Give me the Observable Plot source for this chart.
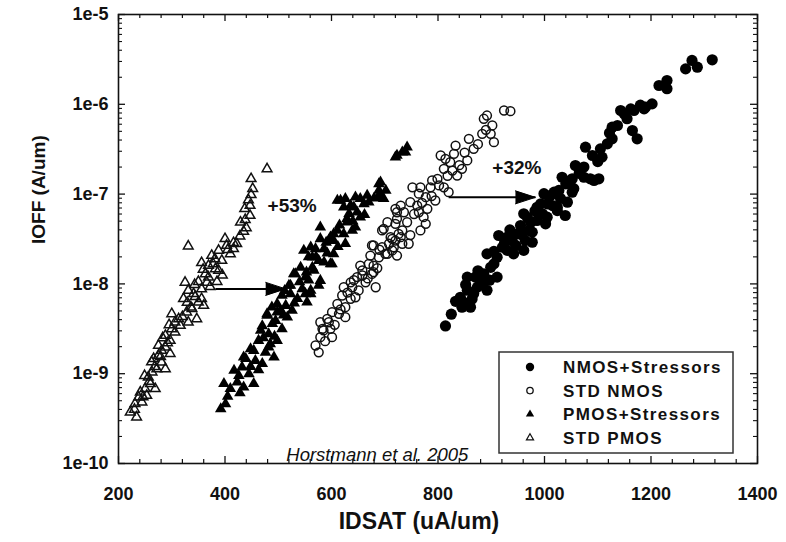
<!DOCTYPE html>
<html>
<head>
<meta charset="utf-8">
<script src="https://cdn.jsdelivr.net/npm/d3@7"></script>
<script src="https://cdn.jsdelivr.net/npm/@observablehq/plot@0.6"></script>
<style>
  body { margin: 0; background: #fff; }
  #chart { width: 786px; height: 542px; }
</style>
</head>
<body>
<div id="chart"></div>
<script>
// ---------- data (IDSAT in uA/um, IOFF in A/um) ----------
const nmosStressIdsat = [814,825,845,861,842,855,867,892,880,855,870,886,911,899,892,911,921,930,914,939,961,949,977,955,971,961,986,996,1002,986,999,1011,1024,1039,1043,1027,1033,1055,1052,1074,1093,977,1005,1024,1052,1049,1058,1074,1086,1102,1077,1090,1105,1108,1118,1127,1127,1137,1143,1155,1165,1174,1168,1187,1202,1215,1230,1230,1265,1277,1287,1315,930,942,905,874,848,864,886,993,1005,964,946,974,1015,1030,1190,1162,
  833,852,875,897,905,925,935,958,968,982,1018,1040,1065,1100,1122,1150,1180];
const nmosStressIoff = [3.4e-9,4.6e-9,5.5e-9,5.5e-9,7.1e-9,8.5e-9,7.8e-9,8.5e-9,1.0e-8,1.19e-8,1.19e-8,1.29e-8,1.19e-8,1.53e-8,2.16e-8,1.98e-8,2.56e-8,2.36e-8,3.46e-8,3.04e-8,2.36e-8,3.61e-8,2.91e-8,4.47e-8,3.93e-8,6.04e-8,5.08e-8,6.04e-8,4.67e-8,7.14e-8,1.01e-7,9.6e-8,7.14e-8,5.78e-8,8.13e-8,1.1e-7,1.54e-7,1.15e-7,1.48e-7,1.54e-7,1.42e-7,3.77e-8,7.8e-8,6.56e-8,1.05e-7,1.42e-7,2.08e-7,2.0e-7,1.48e-7,1.48e-7,3.33e-7,2.69e-7,3.19e-7,2.58e-7,3.63e-7,4.13e-7,5.56e-7,5.81e-7,8.53e-7,6.9e-7,5.1e-7,4.13e-7,8.53e-7,8.9e-7,1.01e-6,1.62e-6,1.49e-6,1.84e-6,2.48e-6,3.08e-6,2.59e-6,3.13e-6,3.31e-8,2.16e-8,1.67e-8,9.2e-9,6.25e-9,6.8e-9,1.09e-8,7.8e-8,5.53e-8,3.04e-8,2.68e-8,4.83e-8,7.46e-8,8.93e-8,9.3e-7,8.9e-7,
  6.4e-9,9.8e-9,1.4e-8,1.1e-8,2.3e-8,2.9e-8,4.0e-8,3.5e-8,5.5e-8,6.5e-8,1.05e-7,1.3e-7,1.7e-7,2.3e-7,4.8e-7,7.8e-7,9.8e-7];

const nmosStdIdsat = [576,570,579,601,583,598,579,592,601,614,626,611,620,636,623,639,651,648,664,683,676,658,670,679,673,689,679,695,701,714,695,711,720,705,720,733,723,730,636,654,658,679,676,698,714,733,717,705,723,745,723,736,742,730,720,748,752,767,764,761,777,780,773,777,767,764,795,786,799,811,820,789,811,827,814,830,833,845,836,855,867,858,883,886,892,902,899,905,924,936,823,805,585,595,626,645,
  588,606,617,630,642,668,686,690,708,726,748,755,770,788,802,818,840,850,875,890];
const nmosStdIoff = [1.73e-9,2.06e-9,2.55e-9,2.55e-9,3.16e-9,3.16e-9,3.74e-9,4.08e-9,4.84e-9,4.64e-9,4.26e-9,6.0e-9,7.43e-9,6.83e-9,9.18e-9,9.18e-9,8.45e-9,1.19e-8,1.04e-8,9.18e-9,1.29e-8,1.41e-8,1.67e-8,1.6e-8,2.07e-8,1.98e-8,2.68e-8,2.56e-8,2.16e-8,2.36e-8,3.94e-8,3.31e-8,3.04e-8,4.86e-8,4.67e-8,3.94e-8,6.28e-8,7.46e-8,1.04e-8,1.6e-8,1.24e-8,1.35e-8,2.68e-8,4.11e-8,3.18e-8,2.8e-8,2.56e-8,2.16e-8,2.07e-8,2.8e-8,5.31e-8,6.28e-8,4.86e-8,3.31e-8,6.86e-8,8.13e-8,1.19e-7,1.19e-7,1.01e-7,7.46e-8,9.23e-8,6.86e-8,5.53e-8,4.67e-8,3.94e-8,6.28e-8,8.49e-8,1.19e-7,1.48e-7,1.19e-7,1.05e-7,1.42e-7,1.91e-7,1.83e-7,2.47e-7,2.81e-7,3.47e-7,1.91e-7,1.61e-7,2.37e-7,3.19e-7,4.13e-7,4.69e-7,6.9e-7,7.5e-7,5.81e-7,4.69e-7,3.79e-7,8.53e-7,8.38e-7,2.27e-7,2.69e-7,3.03e-9,3.74e-9,5.5e-9,7.1e-9,
  2.3e-9,3.5e-9,5.2e-9,8.0e-9,1.1e-8,1.15e-8,1.5e-8,2.4e-8,2.8e-8,3.6e-8,3.5e-8,6.0e-8,8.0e-8,9.5e-8,1.25e-7,1.6e-7,2.1e-7,2.9e-7,3.6e-7,5.2e-7];

const pmosStressIdsat = [392,398,410,423,417,432,445,454,439,457,470,454,476,463,485,467,482,498,489,507,479,498,517,498,514,526,507,523,536,551,520,545,561,554,532,551,542,564,579,564,576,586,548,570,586,598,579,579,598,611,623,629,639,633,648,654,611,626,645,667,670,689,689,698,723,739,720,733,742,692,689,695,636,654,629,645,604,626,604,601,661,617,401,435,435,448,482,492,479,504,523,561,529,567,576,561,604,623,642,595,
  405,428,448,463,426,472,493,470,495,510,488,530,512,540,557,553,571,557,592,590,612,640,662,680,702,615];
const pmosStressIoff = [4.06e-10,7.73e-10,6.8e-10,8.04e-10,1.09e-9,1.18e-9,9.97e-10,7.73e-10,1.47e-9,1.4e-9,1.29e-9,1.81e-9,1.73e-9,2.34e-9,2.15e-9,3.03e-9,2.78e-9,2.34e-9,3.6e-9,3.16e-9,4.64e-9,4.84e-9,4.26e-9,6.0e-9,5.74e-9,5.06e-9,7.43e-9,7.76e-9,6.83e-9,7.76e-9,9.6e-9,8.81e-9,8.45e-9,6.25e-9,1.29e-8,1.19e-8,1.53e-8,1.53e-8,1.09e-8,1.98e-8,1.82e-8,1.75e-8,2.36e-8,2.46e-8,2.46e-8,1.67e-8,3.18e-8,4.28e-8,3.31e-8,3.94e-8,3.61e-8,4.86e-8,3.94e-8,6.04e-8,6.28e-8,8.87e-8,8.49e-8,8.87e-8,9.23e-8,9.64e-8,8.13e-8,1.3e-7,9.64e-8,8.87e-8,2.69e-7,2.93e-7,2.58e-7,2.93e-7,3.33e-7,1.36e-7,1.1e-7,9.23e-8,7.46e-8,5.53e-8,5.31e-8,4.28e-8,3.61e-8,2.8e-8,2.16e-8,1.67e-8,7.8e-8,8.49e-8,4.62e-10,7.08e-10,1.53e-9,1.89e-9,1.97e-9,1.53e-9,4.45e-9,5.06e-9,9.6e-9,7.76e-9,1.29e-8,1.41e-8,9.6e-9,2.56e-8,3.04e-8,7.14e-8,7.14e-8,3.04e-8,
  5.6e-10,6.1e-10,1.2e-9,1.1e-9,9.5e-10,2.5e-9,2.6e-9,3.4e-9,3.9e-9,4.5e-9,5.5e-9,6.1e-9,8.4e-9,1.05e-8,1.1e-8,1.35e-8,2.0e-8,2.0e-8,2.2e-8,2.9e-8,2.6e-8,5.0e-8,5.9e-8,9.0e-8,1.1e-7,4.5e-8];

const pmosStdIdsat = [479,449,449,447,437,447,429,435,331,400,416,422,388,410,394,356,378,388,350,366,385,363,331,322,356,360,347,300,313,328,288,300,316,331,275,288,297,275,281,288,263,256,269,250,241,244,231,222,234,375,382,369,341,350,338,306,297,281,266,272,260,238,253,325,369,403,416,
  230,246,258,249,268,262,279,292,283,306,295,320,336,344,329,356,372,343,359,395,405,381,428,440,438,452,444];
const pmosStdIoff = [1.91e-7,1.48e-7,9.82e-8,7.46e-8,6.86e-8,5.78e-8,4.86e-8,3.84e-8,2.63e-8,3.18e-8,2.87e-8,2.8e-8,2.36e-8,2.16e-8,1.82e-8,1.72e-8,1.67e-8,1.41e-8,1.06e-8,1.04e-8,1.06e-8,1.29e-8,8.45e-9,6.83e-9,6.83e-9,5.74e-9,4.08e-9,4.64e-9,4.08e-9,4.84e-9,2.66e-9,3.16e-9,3.44e-9,3.74e-9,2.06e-9,1.97e-9,1.67e-9,1.6e-9,1.34e-9,1.13e-9,1.04e-9,9.14e-10,6.79e-10,6.79e-10,6.22e-10,4.82e-10,4.62e-10,3.72e-10,3.28e-10,2.07e-8,1.47e-8,1.19e-8,7.76e-9,6.25e-9,5.28e-9,3.74e-9,2.34e-9,1.81e-9,1.47e-9,1.13e-9,7.73e-10,5.47e-10,5.71e-10,1.04e-8,1.6e-8,2.68e-8,2.46e-8,
  4.0e-10,5.5e-10,8.2e-10,9.5e-10,1.2e-9,1.35e-9,1.55e-9,2.2e-9,2.5e-9,2.9e-9,3.5e-9,4.3e-9,5.5e-9,7.2e-9,6.2e-9,8.8e-9,9.3e-9,9.8e-9,1.45e-8,1.25e-8,2.4e-8,1.9e-8,3.4e-8,4.2e-8,5.2e-8,1.15e-7,8.6e-8];

const legendLabels = ["NMOS+Stressors", "STD NMOS", "PMOS+Stressors", "STD PMOS"];

// annotation arrows (+53 %, +32 % shifts)
const arrowFrom = [382, 820];
const arrowTo = [514, 983];
const arrowIoff = [8.8e-9, 9.2e-8];
const noteText = ["+53%", "+32%"];
const noteIdsat = [480, 902];
const noteIoff = [7.46e-8, 1.95e-7];
const citeText = ["Horstmann et al. 2005"];
const citeIdsat = [686];
const citeIoff = [1.23e-10];

// axis ticks
const xMajor = [200, 400, 600, 800, 1000, 1200, 1400];
const xMinor = [240,280,320,360,440,480,520,560,640,680,720,760,840,880,920,960,1040,1080,1120,1160,1240,1280,1320,1360];
const yMajor = [1e-10, 1e-9, 1e-8, 1e-7, 1e-6, 1e-5];
const yMinorMult = [2, 3, 4, 5, 6, 7, 8, 9];
const yMinor = yMajor.slice(0, -1).flatMap(d => yMinorMult.map(m => m * d));

// ---------- build ----------
const pts = (xs, ys) => xs.map((x, i) => ({x, y: ys[i]}));
const nmosStress = pts(nmosStressIdsat, nmosStressIoff);
const nmosStd = pts(nmosStdIdsat, nmosStdIoff);
const pmosStress = pts(pmosStressIdsat, pmosStressIoff);
const pmosStd = pts(pmosStdIdsat, pmosStdIoff);
const arrows = arrowFrom.map((x1, i) => ({x1, x2: arrowTo[i], y: arrowIoff[i]}));
const notes = noteText.map((t, i) => ({t, x: noteIdsat[i], y: noteIoff[i]}));
const cites = citeText.map((t, i) => ({t, x: citeIdsat[i], y: citeIoff[i]}));

const W = 786, H = 542, mL = 118, mR = 29, mT = 14, mB = 79;
const pw = W - mL - mR, ph = H - mT - mB;
const font = "'Liberation Sans', Arial, Helvetica, sans-serif";
const ink = "#111";

const svg = Plot.plot({
  width: W, height: H,
  marginLeft: mL, marginRight: mR, marginTop: mT, marginBottom: mB,
  style: {fontFamily: font, background: "#fff", color: ink},
  x: {domain: [200, 1400]},
  y: {type: "log", domain: [1e-10, 1e-5]},
  marks: [
    // inward ticks on all four sides
    Plot.ruleX(xMajor, {insetTop: ph - 7, stroke: ink, strokeWidth: 1.3}),
    Plot.ruleX(xMajor, {insetBottom: ph - 7, stroke: ink, strokeWidth: 1.3}),
    Plot.ruleX(xMinor, {insetTop: ph - 4, stroke: ink, strokeWidth: 1.2}),
    Plot.ruleX(xMinor, {insetBottom: ph - 4, stroke: ink, strokeWidth: 1.2}),
    Plot.ruleY(yMajor, {insetRight: pw - 7, stroke: ink, strokeWidth: 1.3}),
    Plot.ruleY(yMajor, {insetLeft: pw - 7, stroke: ink, strokeWidth: 1.3}),
    Plot.ruleY(yMinor, {insetRight: pw - 4, stroke: ink, strokeWidth: 1.1}),
    Plot.ruleY(yMinor, {insetLeft: pw - 4, stroke: ink, strokeWidth: 1.1}),
    Plot.axisX({ticks: xMajor, tickSize: 0, tickPadding: 24, tickFormat: d => String(d),
      fontSize: 18, fontWeight: "bold", label: null}),
    Plot.axisY({ticks: yMajor, tickSize: 0, tickPadding: 10,
      tickFormat: d => "1e-" + Math.round(-Math.log10(d)),
      fontSize: 18, fontWeight: "bold", label: null}),
    Plot.text(["IDSAT (uA/um)"], {frameAnchor: "bottom", dx: -19, dy: 65, fontSize: 23, fontWeight: "bold", fill: ink}),
    Plot.text(["IOFF (A/um)"], {frameAnchor: "left", rotate: -90, dx: -80, dy: 5, fontSize: 19, fontWeight: "bold", fill: ink}),
    // data
    Plot.dot(pmosStd, {x: "x", y: "y", symbol: "triangle", r: 3.6, fill: "none", stroke: ink, strokeWidth: 1.5}),
    Plot.dot(pmosStress, {x: "x", y: "y", symbol: "triangle", r: 4.3, fill: "#000", stroke: "none"}),
    Plot.dot(nmosStd, {x: "x", y: "y", r: 4.4, fill: "none", stroke: ink, strokeWidth: 1.5}),
    Plot.dot(nmosStress, {x: "x", y: "y", r: 5.6, fill: "#000", stroke: "none"}),
    // arrows
    Plot.link(arrows, {x1: "x1", x2: "x2", y1: "y", y2: "y", stroke: "#000", strokeWidth: 2}),
    Plot.vector(arrows, {x: "x2", y: "y", rotate: 90, length: 20, r: 6.5, shape: "spike", anchor: "end", fill: "#000", stroke: "#000", strokeWidth: 1}),
    // annotations
    Plot.text(notes, {x: "x", y: "y", text: "t", textAnchor: "start", fontSize: 19, fontWeight: "bold", fill: ink}),
    Plot.text(cites, {x: "x", y: "y", text: "t", fontSize: 18.5, fontStyle: "italic", fill: ink}),
    Plot.frame({stroke: ink, strokeWidth: 1.6})
  ]
});

// legend box inside the plot area
const sel = d3.select(svg);
const lg = sel.append("g").attr("font-family", font).attr("text-anchor", "start");
lg.append("rect").attr("x", 499).attr("y", 352).attr("width", 234).attr("height", 101)
  .attr("fill", "#fff").attr("stroke", "#333").attr("stroke-width", 1.5);
const mx = 530, tx = 563, y0 = 367, dyRow = 23.6;
legendLabels.forEach((label, i) => {
  const cy = y0 + i * dyRow;
  if (i === 0) lg.append("circle").attr("cx", mx).attr("cy", cy).attr("r", 4.2).attr("fill", "#000");
  if (i === 1) lg.append("circle").attr("cx", mx).attr("cy", cy).attr("r", 3.2).attr("fill", "none").attr("stroke", ink).attr("stroke-width", 1.3);
  if (i === 2) lg.append("path").attr("transform", `translate(${mx},${cy})`).attr("d", d3.symbol(d3.symbolTriangle, 30)()).attr("fill", "#000");
  if (i === 3) lg.append("path").attr("transform", `translate(${mx},${cy})`).attr("d", d3.symbol(d3.symbolTriangle, 22)()).attr("fill", "none").attr("stroke", ink).attr("stroke-width", 1.2);
  lg.append("text").attr("x", tx).attr("y", cy).attr("dy", "0.36em").attr("text-anchor", "start")
    .attr("font-size", 17).attr("font-weight", "bold").attr("letter-spacing", 1.4)
    .attr("fill", ink).text(label);
});

document.getElementById("chart").append(svg);
</script>
</body>
</html>
